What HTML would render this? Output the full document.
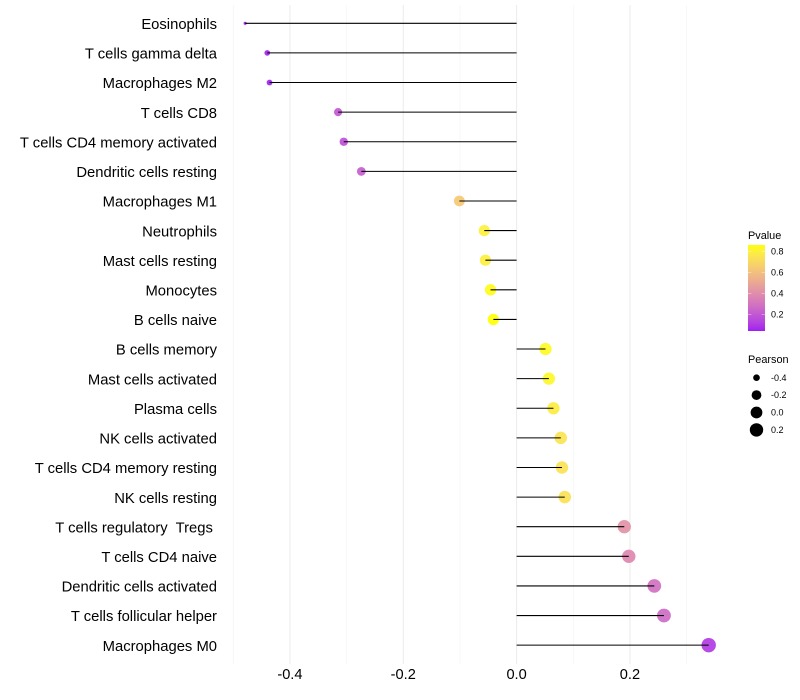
<!DOCTYPE html>
<html lang="en">
<head>
<meta charset="utf-8">
<title>Immune cell correlation lollipop chart</title>
<style>
html,body{margin:0;padding:0;background:#fff;}
svg{display:block;font-family:"Liberation Sans",sans-serif;}
text{white-space:pre;}
</style>
</head>
<body>
<svg id="chart" width="800" height="700" viewBox="0 0 800 700" xmlns="http://www.w3.org/2000/svg">
<defs>
<linearGradient id="pvalue-gradient" x1="0" y1="1" x2="0" y2="0"></linearGradient>
</defs>
<g id="grid"></g>
<g id="labels"></g>
<g id="ticks"></g>
<g id="points"></g>
<g id="stems"></g>
<g id="color-legend">
<text x="748" y="239" font-size="10.9" fill="#000">Pvalue</text>
<rect x="748" y="245" width="17" height="86" fill="url(#pvalue-gradient)"></rect>
</g>
<g id="size-legend">
<text x="748" y="363" font-size="10.9" fill="#000">Pearson</text>
</g>
</svg>
<script>
const cellTypes = ["Eosinophils","T cells gamma delta","Macrophages M2","T cells CD8","T cells CD4 memory activated","Dendritic cells resting","Macrophages M1","Neutrophils","Mast cells resting","Monocytes","B cells naive","B cells memory","Mast cells activated","Plasma cells","NK cells activated","T cells CD4 memory resting","NK cells resting","T cells regulatory  Tregs ","T cells CD4 naive","Dendritic cells activated","T cells follicular helper","Macrophages M0"];
const pearson = [-0.479,-0.44,-0.436,-0.315,-0.305,-0.274,-0.101,-0.057,-0.055,-0.046,-0.041,0.051,0.057,0.065,0.078,0.080,0.085,0.190,0.198,0.243,0.260,0.339];
const pvalue = [0.03,0.05,0.05,0.20,0.17,0.22,0.64,0.80,0.80,0.85,0.86,0.84,0.83,0.79,0.75,0.745,0.74,0.42,0.38,0.29,0.27,0.11];
const xTicks = [-0.4,-0.2,0.0,0.2];
const xTickLabels = ["-0.4","-0.2","0.0","0.2"];
const xMinorTicks = [-0.5,-0.3,-0.1,0.1,0.3];
const pvalueTicks = [0.2,0.4,0.6,0.8];
const pvalueTickLabels = ["0.2","0.4","0.6","0.8"];
const pearsonBreaks = [-0.4,-0.2,0.0,0.2];
const pearsonBreakLabels = ["-0.4","-0.2","0.0","0.2"];

const NS = "http://www.w3.org/2000/svg";
function make(tag, attrs, parent) {
  const el = document.createElementNS(NS, tag);
  for (const k in attrs) el.setAttribute(k, attrs[k]);
  parent.appendChild(el);
  return el;
}
function x(v) { return 516.6 + v * 566.7; }
function y(i) { return 23.3 + i * 29.612; }
const pMin = 0.043, pMax = 0.862;
function pY(p) { return 331 - (p - pMin) / (pMax - pMin) * 86; }

/* colour scale: Lab-space interpolation from purple to yellow */
function rgb2lab(c) {
  const l = c.map(function (u) { u /= 255; return u > 0.04045 ? Math.pow((u + 0.055) / 1.055, 2.4) : u / 12.92; });
  const X = (0.4124 * l[0] + 0.3576 * l[1] + 0.1805 * l[2]) / 0.95047;
  const Y = 0.2126 * l[0] + 0.7152 * l[1] + 0.0722 * l[2];
  const Z = (0.0193 * l[0] + 0.1192 * l[1] + 0.9505 * l[2]) / 1.08883;
  const f = function (t) { return t > 0.008856 ? Math.cbrt(t) : 7.787 * t + 16 / 116; };
  return [116 * f(Y) - 16, 500 * (f(X) - f(Y)), 200 * (f(Y) - f(Z))];
}
function lab2hex(L) {
  const fy = (L[0] + 16) / 116, fx = fy + L[1] / 500, fz = fy - L[2] / 200;
  const g = function (t) { return t * t * t > 0.008856 ? t * t * t : (t - 16 / 116) / 7.787; };
  const X = g(fx) * 0.95047, Y = g(fy), Z = g(fz) * 1.08883;
  const lin = [3.2406 * X - 1.5372 * Y - 0.4986 * Z, -0.9689 * X + 1.8758 * Y + 0.0415 * Z, 0.0557 * X - 0.2040 * Y + 1.0570 * Z];
  return "#" + lin.map(function (u) {
    u = Math.max(0, Math.min(1, u));
    u = u > 0.0031308 ? 1.055 * Math.pow(u, 1 / 2.4) - 0.055 : 12.92 * u;
    return Math.round(u * 255).toString(16).padStart(2, "0");
  }).join("");
}
const labLow = rgb2lab([160, 32, 240]), labHigh = rgb2lab([255, 255, 0]);
function colorAt(t) {
  t = Math.max(0, Math.min(1, t));
  return lab2hex(labLow.map(function (a, i) { return a + (labHigh[i] - a) * t; }));
}
function pColor(p) { return colorAt((p - pMin) / (pMax - pMin)); }
function radius(v) {
  const lo = -0.479, hi = 0.339;
  return 1.6 + 5.6 * Math.sqrt((v - lo) / (hi - lo));
}

const grid = document.getElementById("grid");
xMinorTicks.forEach(function (t) {
  const el = make("line", {x1: x(t), x2: x(t), y1: 5, y2: 664, stroke: "#f3f3f3", "stroke-width": 0.6}, grid);
  
  
});
xTicks.forEach(function (t) {
  const el = make("line", {x1: x(t), x2: x(t), y1: 5, y2: 664, stroke: "#ebebeb", "stroke-width": 1}, grid);
  
  
});

const labels = document.getElementById("labels");
cellTypes.forEach(function (name, i) {
  const el = make("text", {x: 217, y: y(i) + 5.7, "text-anchor": "end", "font-size": 14.8, fill: "#000"}, labels);
  
  
  el.textContent = name;
});

const ticks = document.getElementById("ticks");
xTicks.forEach(function (t, i) {
  const el = make("text", {x: x(t), y: 679, "text-anchor": "middle", "font-size": 14.6, fill: "#000"}, ticks);
  
  
  el.textContent = xTickLabels[i];
});

const points = document.getElementById("points");
const stems = document.getElementById("stems");
pearson.forEach(function (v, i) {
  const dot = make("circle", {cx: x(v), cy: y(i), r: radius(v), fill: pColor(pvalue[i]), "fill-opacity": 0.92}, points);
  
  
  const stem = make("line", {x1: x(0), x2: x(v), y1: y(i), y2: y(i), stroke: "#000", "stroke-width": 1.05}, stems);
  
  
});

const gradient = document.getElementById("pvalue-gradient");
for (let s = 0; s <= 20; s++) {
  make("stop", {offset: (s * 5) + "%", "stop-color": colorAt(s / 20)}, gradient);
}
const colorLegend = document.getElementById("color-legend");
pvalueTicks.forEach(function (p, i) {
  const left = make("line", {x1: 748, x2: 751.4, y1: pY(p), y2: pY(p), stroke: "#fff", "stroke-opacity": 0.6, "stroke-width": 0.6}, colorLegend);
  
  
  const right = make("line", {x1: 761.6, x2: 765, y1: pY(p), y2: pY(p), stroke: "#fff", "stroke-opacity": 0.6, "stroke-width": 0.6}, colorLegend);
  
  
  const label = make("text", {x: 771, y: pY(p) + 3.1, "font-size": 9, fill: "#000"}, colorLegend);
  
  
  label.textContent = pvalueTickLabels[i];
});

const sizeLegend = document.getElementById("size-legend");
pearsonBreaks.forEach(function (b, i) {
  const cy = 377.7 + i * 17.4;
  const dot = make("circle", {cx: 756.5, cy: cy, r: radius(b), fill: "#000"}, sizeLegend);
  
  
  const label = make("text", {x: 771, y: cy + 3.1, "font-size": 9, fill: "#000"}, sizeLegend);
  
  
  label.textContent = pearsonBreakLabels[i];
});
</script>
</body>
</html>
